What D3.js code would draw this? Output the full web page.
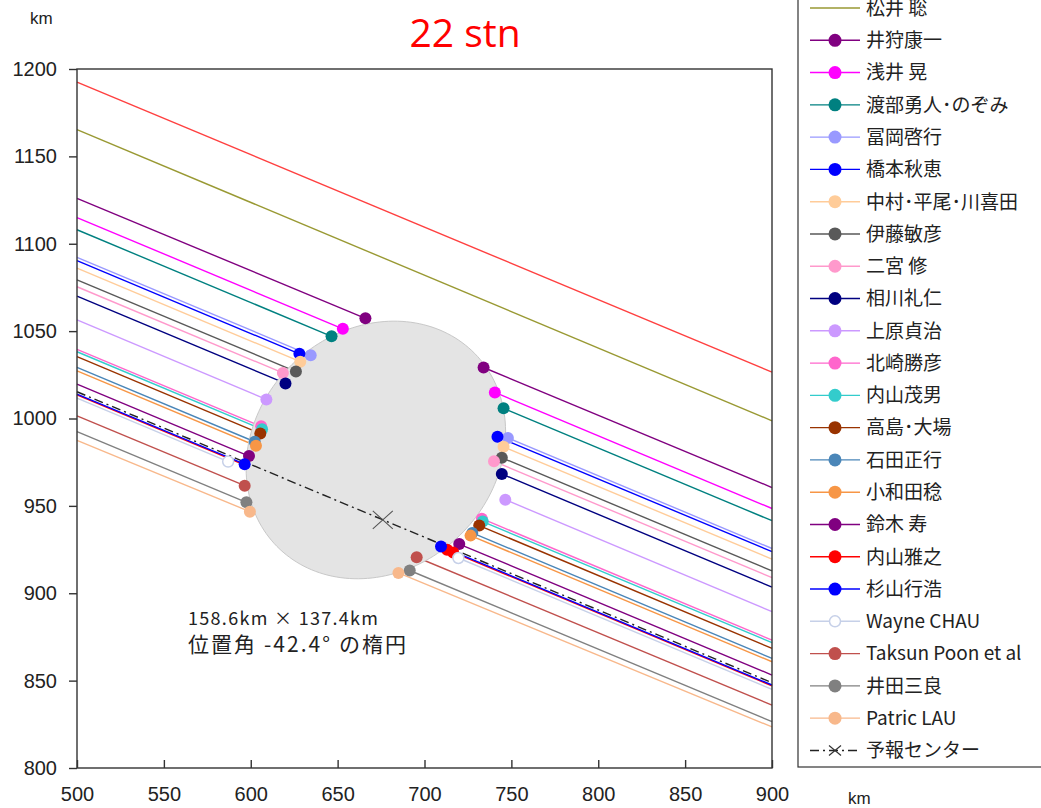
<!DOCTYPE html>
<html>
<head>
<meta charset="utf-8">
<script src="https://cdn.jsdelivr.net/npm/d3@7"></script>
<style>
  html,body{margin:0;padding:0;background:#fff;}
  svg{display:block;font-family:"Liberation Sans","Noto Sans CJK JP",sans-serif;}
  .tick-label{font-size:20px;fill:#222;}
  .leg-label{font-size:19px;fill:#222;font-family:"Noto Sans CJK JP","Liberation Sans",sans-serif;}
</style>
</head>
<body>
<div id="chart"></div>
<script>
/* Occultation chords (22 stations) with the fitted ellipse.
   Each station: y at x=500 and x=900 (km), plus the x of the
   disappearance / reappearance points (null = miss). */
var names=["","松井 聡","井狩康一","浅井 晃","渡部勇人･のぞみ","冨岡啓行","橋本秋恵","中村･平尾･川喜田",
    "伊藤敏彦","二宮 修","相川礼仁","上原貞治","北崎勝彦","内山茂男","高島･大場","石田正行","小和田稔",
    "鈴木 寿","内山雅之","杉山行浩","Wayne CHAU","Taksun Poon et al","井田三良","Patric LAU"];
var colors=["#ff4040","#999933","#800080","#ff00ff","#008080","#9999ff","#0000ff","#ffcc99",
    "#595959","#ff99cc","#000080","#cc99ff","#ff66cc","#33cccc","#993300","#4a86b8","#f79646",
    "#800080","#ff0000","#0000ff","#c6d0e8","#c0504d","#808080","#f8b88b"];
var yLeft =[1192.5,1165.3,1126.0,1115.0,1108.0,1092.2,1090.3,1086.0,1079.3,1075.4,1070.0,1056.4,
    1039.6,1038.2,1035.4,1029.3,1027.2,1019.7,1013.5,1014.0,1011.6,1001.5,992.5,987.5];
var yRight=[1026.5,998.7,960.5,948.5,941.5,925.6,923.8,919.5,912.8,908.9,903.5,889.5,
    873.2,871.7,868.4,862.7,860.8,853.2,847.0,847.5,845.0,836.0,826.5,823.5];
var xIn =[null,null,666.0,653.0,646.5,634.5,628.0,628.5,626.0,618.5,620.0,609.0,
    606.0,606.5,605.5,602.3,603.0,599.0,713.0,596.5,587.0,596.5,597.5,599.5];
var xOut=[null,null,734.0,740.5,745.5,748.0,742.0,745.5,744.5,740.0,744.5,746.5,
    733.0,733.5,731.5,727.5,726.5,720.0,716.5,709.5,719.5,695.5,691.5,685.0];
var hollow=[20];

var forecastName="予報センター";
var forecastY=[1015.3,848.8];
var forecastCenter=[676,942];
var ellipseCenter=[672,982];
var ellipseAxes=[158.6,137.4];   // km
var ellipseAngle=-42.4;          // position angle, deg (clockwise)
var xTicks=[500,550,600,650,700,750,800,850,900];
var yTicks=[800,850,900,950,1000,1050,1100,1150,1200];

var W=1041,H=808;
var svg=d3.select("#chart").append("svg").attr("width",W).attr("height",H);
var x=d3.scaleLinear().domain([500,900]).range([77,772]);
var y=d3.scaleLinear().domain([800,1200]).range([768,69]);

svg.append("text").attr("x",465).attr("y",47).attr("text-anchor","middle")
    .attr("font-family","'Open Sans',sans-serif").attr("font-size",39).attr("fill","#ff0000").text("22 stn");

var stations=names.map(function(n,i){
    return {name:n,color:colors[i],yl:yLeft[i],yr:yRight[i],xin:xIn[i],xout:xOut[i],hollow:hollow.indexOf(i)>=0,
        line:d3.scaleLinear().domain([500,900]).range([yLeft[i],yRight[i]])};
});

var plot=svg.append("g");
var segLine=d3.line().x(function(d){return x(d[0]);}).y(function(d){return y(d[1]);});

// chords outside the body
stations.forEach(function(s){
    var segs=s.xin==null ? [[500,900]] : [[500,s.xin],[s.xout,900]];
    segs.forEach(function(g){
        plot.append("path").attr("d",segLine([[g[0],s.line(g[0])],[g[1],s.line(g[1])]]))
            .attr("fill","none").attr("stroke",s.color).attr("stroke-width",1.4);
    });
});

// fitted ellipse (major axis rotated by -positionAngle in the x/y plane)
var a=ellipseAxes[0]/2,b=ellipseAxes[1]/2,phi=-ellipseAngle*Math.PI/180;
var ell=d3.range(0,360,2).map(function(t){t=t*Math.PI/180;
    return [ellipseCenter[0]+a*Math.cos(t)*Math.cos(phi)-b*Math.sin(t)*Math.sin(phi),
            ellipseCenter[1]+a*Math.cos(t)*Math.sin(phi)+b*Math.sin(t)*Math.cos(phi)];});
plot.append("path").attr("d",segLine.curve(d3.curveCardinalClosed)(ell))
    .attr("fill","#e4e4e4").attr("stroke","#c8c8c8").attr("stroke-width",1);
segLine.curve(d3.curveLinear);

// forecast centre line
plot.append("path").attr("d",segLine([[500,forecastY[0]],[900,forecastY[1]]]))
    .attr("fill","none").attr("stroke","#222").attr("stroke-width",1.4).attr("stroke-dasharray","9,4,2,4");
var cx=x(forecastCenter[0]),cy=y(forecastCenter[1]);
plot.append("path").attr("d","M"+(cx-10)+","+(cy-9)+"L"+(cx+10)+","+(cy+9)+"M"+(cx-10)+","+(cy+9)+"L"+(cx+10)+","+(cy-9))
    .attr("stroke","#555").attr("stroke-width",1.1);

// contact points
stations.forEach(function(s){
    if(s.xin==null) return;
    [s.xin,s.xout].forEach(function(v){
        plot.append("circle").attr("cx",x(v)).attr("cy",y(s.line(v))).attr("r",s.hollow?5.5:6)
            .attr("fill",s.hollow?"#fff":s.color).attr("stroke",s.hollow?s.color:"none").attr("stroke-width",1.5);
    });
});

// axes / frame
svg.append("rect").attr("x",77).attr("y",69).attr("width",695).attr("height",699)
    .attr("fill","none").attr("stroke","#333").attr("stroke-width",1.4);
var xa=svg.append("g").attr("transform","translate(0,768)")
    .call(d3.axisBottom(x).tickValues(xTicks).tickSize(-8).tickPadding(18).tickFormat(d3.format("d")));
var ya=svg.append("g").attr("transform","translate(77,0)")
    .call(d3.axisLeft(y).tickValues(yTicks).tickSize(8).tickPadding(12).tickFormat(d3.format("d")));
[xa,ya].forEach(function(g){
    g.select(".domain").remove();
    g.selectAll("line").attr("stroke","#333").attr("stroke-width",1.4);
    g.selectAll("text").attr("class","tick-label").attr("font-size",20).attr("font-family","'Liberation Sans',sans-serif").attr("fill","#222");
});
xa.selectAll("text").attr("dy","0.75em");
svg.append("text").attr("x",30).attr("y",24).attr("font-size",17).attr("fill","#222").text("km");
svg.append("text").attr("x",848).attr("y",804).attr("font-size",17).attr("fill","#222").text("km");

// ellipse note
svg.append("text").attr("x",188).attr("y",625).attr("font-size",18).attr("fill","#222")
    .attr("font-family","'Noto Sans CJK JP',sans-serif").attr("textLength",190).attr("lengthAdjust","spacing")
    .text("158.6km × 137.4km");
svg.append("text").attr("x",188).attr("y",652).attr("font-size",21).attr("fill","#222")
    .attr("font-family","'Noto Sans CJK JP',sans-serif").attr("textLength",218).attr("lengthAdjust","spacing")
    .text("位置角 -42.4° の楕円");

// legend (first row lies above the visible area, as in the source)
var leg=svg.append("g");
leg.append("rect").attr("x",798).attr("y",-10).attr("width",250).attr("height",777)
    .attr("fill","#fff").attr("stroke","#333").attr("stroke-width",1.2);
var rowH=32.28,row0=8-rowH;
stations.forEach(function(s,i){
    var ry=row0+i*rowH;
    if(ry<0) return;
    leg.append("line").attr("x1",810).attr("x2",860).attr("y1",ry).attr("y2",ry).attr("stroke",s.color).attr("stroke-width",1.4);
    if(s.xin!=null) leg.append("circle").attr("cx",835).attr("cy",ry).attr("r",s.hollow?5.5:6.5)
        .attr("fill",s.hollow?"#fff":s.color).attr("stroke",s.hollow?s.color:"none").attr("stroke-width",1.5);
    leg.append("text").attr("class","leg-label").attr("x",866).attr("y",ry).attr("dy","0.36em").text(s.name);
});
var fy=row0+stations.length*rowH;
leg.append("line").attr("x1",810).attr("x2",860).attr("y1",fy).attr("y2",fy).attr("stroke","#222").attr("stroke-width",1.4).attr("stroke-dasharray","9,4,2,4");
leg.append("path").attr("d","M829,"+(fy-5)+"L841,"+(fy+5)+"M829,"+(fy+5)+"L841,"+(fy-5)).attr("stroke","#333").attr("stroke-width",1.2);
leg.append("text").attr("class","leg-label").attr("x",866).attr("y",fy).attr("dy","0.36em").text(forecastName);
</script>
</body>
</html>
